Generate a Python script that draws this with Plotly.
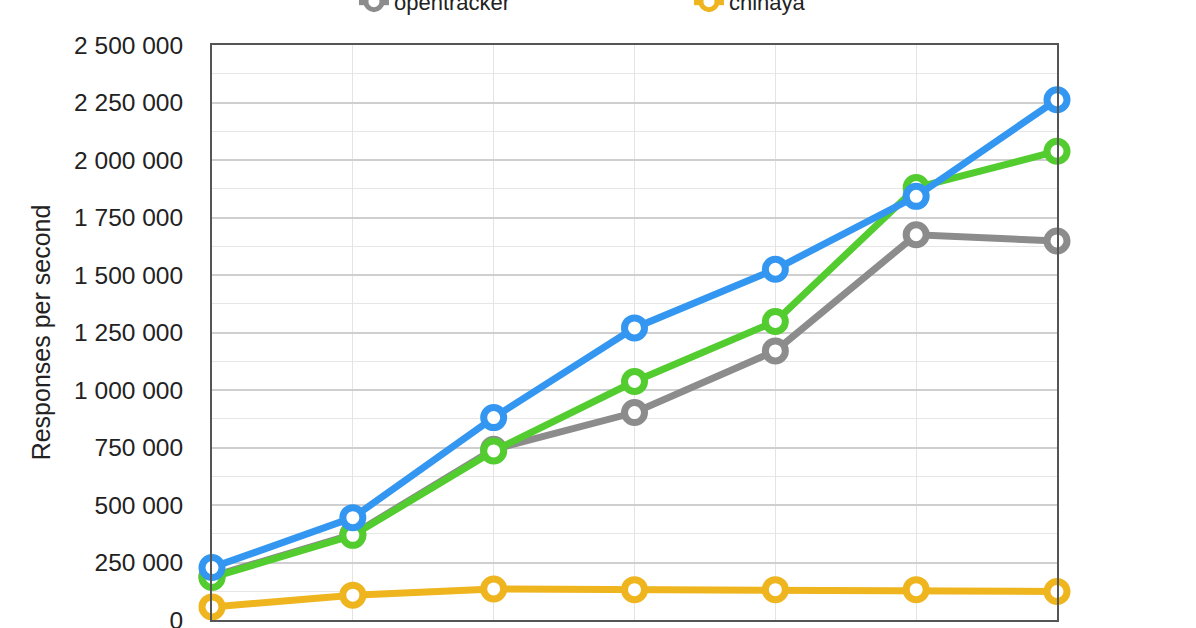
import plotly.graph_objects as go

x_steps = [1, 2, 3, 4, 5, 6, 7]
blue_values = [228000, 445000, 880000, 1270000, 1525000, 1842000, 2262000]
green_values = [185000, 368000, 735000, 1037000, 1298000, 1880000, 2038000]
opentracker_values = [190000, 372000, 742000, 902000, 1170000, 1675000, 1648000]
chihaya_values = [57000, 108000, 135000, 132000, 132000, 132000, 124000]

y_tickvals = [0, 250000, 500000, 750000, 1000000, 1250000, 1500000,
              1750000, 2000000, 2250000, 2500000]

FONT = "Liberation Sans, Arial, sans-serif"
TXT = "#222222"

series = [
    ("opentracker", opentracker_values, "#8c8c8c", True),
    ("green series", green_values, "#52cc2e", False),
    ("blue series", blue_values, "#3397f2", False),
    ("chihaya", chihaya_values, "#efb51f", True),
]

fig = go.Figure()
for name, vals, col, show in series:
    fig.add_trace(go.Scatter(
        x=x_steps, y=vals, name=name, mode="lines+markers",
        line=dict(color=col, width=7),
        marker=dict(symbol="circle", size=20, color="white",
                    line=dict(color=col, width=7)),
        cliponaxis=False, showlegend=show,
    ))

fig.update_layout(
    width=1196, height=628,
    margin=dict(l=212, r=139, t=45, b=8, autoexpand=False),
    paper_bgcolor="white", plot_bgcolor="white",
    separators=". ",
    font=dict(family=FONT, size=22, color=TXT),
    legend=dict(orientation="h", x=0.168, y=1.075, xanchor="left", yanchor="middle",
                entrywidth=290, entrywidthmode="pixels", traceorder="normal",
                font=dict(size=22, color=TXT), bgcolor="rgba(0,0,0,0)"),
    xaxis=dict(range=[1, 7], showticklabels=False, showgrid=True,
               gridcolor="#e4e4e4", gridwidth=1, tickvals=x_steps,
               showline=True, linecolor="#555555", linewidth=2, mirror=True,
               zeroline=False, fixedrange=True),
    yaxis=dict(range=[0, 2500000], tickvals=y_tickvals, tickformat=",d",
               showgrid=True, gridcolor="#cfcfcf", gridwidth=2,
               minor=dict(dtick=125000, showgrid=True, gridcolor="#e6e6e6", gridwidth=1),
               showline=True, linecolor="#555555", linewidth=2, mirror=True,
               zeroline=False, ticklabelstandoff=22, ticklabeloverflow="allow",
               tickfont=dict(size=24.5, color=TXT),
               title=dict(text="Responses per second", standoff=16,
                          font=dict(size=25, color=TXT)),
               automargin=False),
)

fig.write_html("out.html", config={"displayModeBar": False},
               post_script="document.body.style.margin='0';")
